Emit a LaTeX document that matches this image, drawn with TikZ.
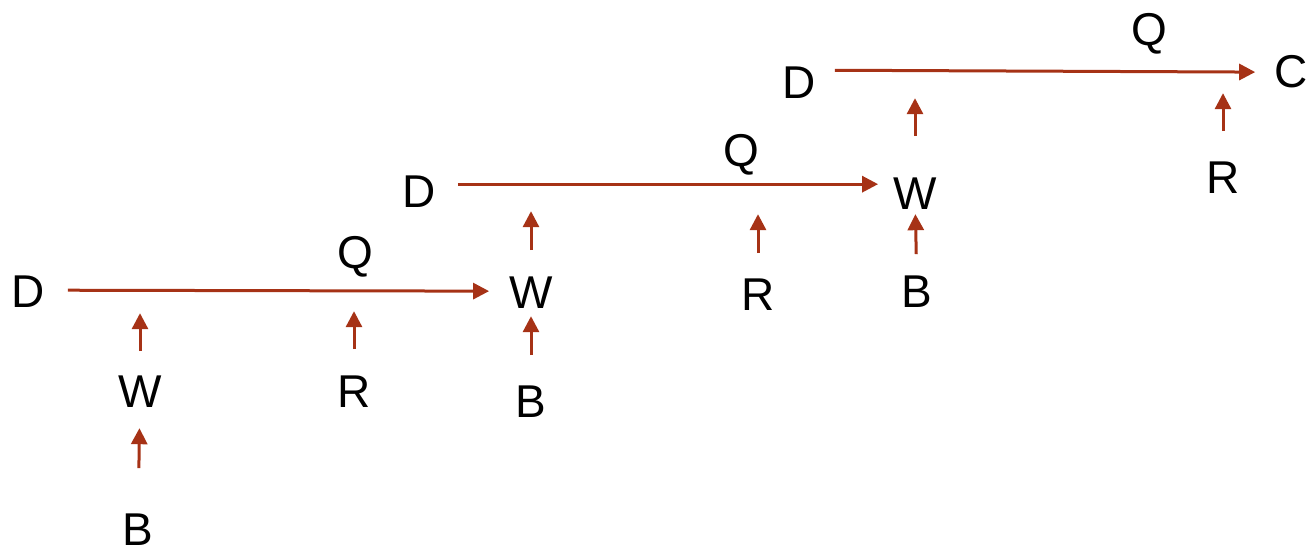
\documentclass[tikz,border=0pt]{standalone}
\usepackage{fontspec}
\setmainfont{Liberation Sans}
\usepackage{tikz}
\usetikzlibrary{arrows.meta}
\definecolor{rust}{RGB}{166,50,22}
\tikzstyle{letter} = [anchor=base, inner sep=2pt, font=\fontsize{46}{50}\selectfont]
\tikzstyle{arrow} = [draw=rust, line width=3pt, -{Triangle[length=16pt,width=16pt]}]

\begin{document}
\begin{tikzpicture}[x=1pt, y=-1pt]
\useasboundingbox (0,0) rectangle (1309,551);
% first step
\node (d1) [letter] at (28,307) {D};
\node (q1) [letter] at (355,268) {Q};
\node (w1) [letter] at (140,407) {W};
\node (b1) [letter] at (138,545) {B};
\node (r1) [letter] at (354,407) {R};
% second step
\node (d2) [letter] at (419,207) {D};
\node (q2) [letter] at (741,166) {Q};
\node (w2) [letter] at (531,308) {W};
\node (b2) [letter] at (531,417) {B};
\node (r2) [letter] at (758,310) {R};
% third step
\node (d3) [letter] at (799,99) {D};
\node (q3) [letter] at (1149,46) {Q};
\node (w3) [letter] at (915,209) {W};
\node (b3) [letter] at (917,307) {B};
\node (r3) [letter] at (1223,193) {R};
\node (c) [letter] at (1291,88) {C};

\draw [arrow, shorten <=21pt, shorten >=18pt] ([yshift=1pt]d1.east) -- ([yshift=1pt]w2.west);
\draw [arrow, shorten <=20pt, shorten >=13pt] ([yshift=7pt]d2.east) -- ([yshift=9pt]w3.west);
\draw [arrow, shorten <=17pt, shorten >=17pt] ([yshift=13pt]d3.east) -- (c.west);

\draw [arrow, shorten <=43pt, shorten >=19pt] (b1) -- (w1);
\draw [arrow, shorten <=22pt, shorten >=22pt] (w1) -- (w1 |- d1);
\draw [arrow, shorten <=24pt, shorten >=20pt] (r1) -- (r1 |- d1);
\draw [arrow, shorten <=28pt, shorten >=6pt] (b2) -- (w2);
\draw [arrow, shorten <=24pt, shorten >=20pt] (w2) -- (w2 |- d2);
\draw [arrow, shorten <=23pt, shorten >=23pt] (r2) -- (r2 |- d2);
\draw [arrow, shorten <=19pt, shorten >=3pt] (b3) -- (w3);
\draw [arrow, shorten <=39pt, shorten >=15pt] (w3) -- (w3 |- d3);
\draw [arrow, shorten <=28pt, shorten >=10pt] (r3) -- (r3 |- d3);
\end{tikzpicture}
\end{document}
